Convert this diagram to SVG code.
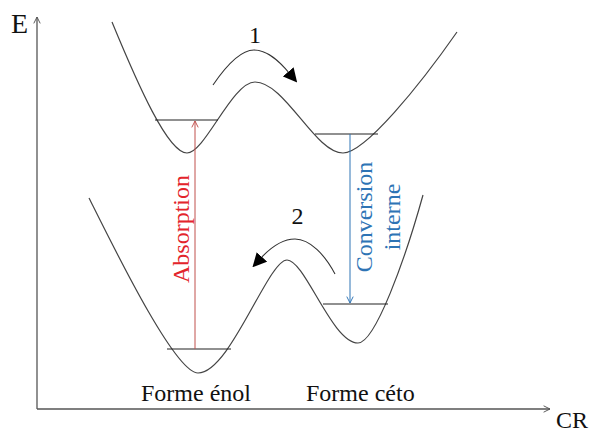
<svg xmlns="http://www.w3.org/2000/svg" width="592" height="432" viewBox="0 0 592 432">
  <defs>
    <marker id="chevGray" viewBox="0 0 10 10" refX="9" refY="5" markerWidth="8" markerHeight="8" markerUnits="userSpaceOnUse" orient="auto">
      <path d="M1,1 L9,5 L1,9" fill="none" stroke="#555" stroke-width="1.2"/>
    </marker>
    <marker id="chevRed" viewBox="0 0 10 10" refX="9" refY="5" markerWidth="8" markerHeight="8" markerUnits="userSpaceOnUse" orient="auto">
      <path d="M1,1 L9,5 L1,9" fill="none" stroke="#c0504d" stroke-width="1.2"/>
    </marker>
    <marker id="chevBlue" viewBox="0 0 10 10" refX="9" refY="5" markerWidth="8" markerHeight="8" markerUnits="userSpaceOnUse" orient="auto">
      <path d="M1,1 L9,5 L1,9" fill="none" stroke="#2e74b5" stroke-width="1.2"/>
    </marker>
    <marker id="tri" viewBox="0 0 10 10" refX="2" refY="5" markerWidth="14" markerHeight="14" markerUnits="userSpaceOnUse" orient="auto">
      <path d="M0,0 L10,5 L0,10 Z" fill="#000"/>
    </marker>
  </defs>
  <style>
    .curve { fill: none; stroke: #444; stroke-width: 1.2; }
    .level { stroke: #222; stroke-width: 1.1; }
    .axis { fill: none; stroke: #555; stroke-width: 1.3; }
    .t { font-family: "Liberation Serif", "Times New Roman", serif; font-size: 24px; fill: #111; }
  </style>
  <rect width="592" height="432" fill="#fff"/>

  <g id="axes">
    <path class="axis" d="M37,409 L37,17" marker-end="url(#chevGray)"/>
    <path class="axis" d="M37,409 L550,409" marker-end="url(#chevGray)"/>
    <text class="t" x="11" y="33" style="font-size:28px">E</text>
    <text class="t" x="556" y="428">CR</text>
  </g>

  <g id="excited-state">
    <path class="curve" d="M112,22 C138,85 168,153 187,153 C205,153 232,82 255,82 C285,82 315,153 343,153 C365,153 420,85 457,32"/>
    <line class="level" x1="155" y1="120" x2="218" y2="120"/>
    <line class="level" x1="315" y1="134" x2="378" y2="134"/>
  </g>

  <g id="ground-state">
    <path class="curve" d="M89,198 C115,250 175,373 198,373 C230,373 268,260 287,260 C305,260 332,343 358,343 C375,343 405,260 423,195"/>
    <line class="level" x1="167" y1="349" x2="231" y2="349"/>
    <line class="level" x1="323" y1="304" x2="388" y2="304"/>
  </g>

  <g id="labels">
    <text class="t" x="141" y="401">Forme énol</text>
    <text class="t" x="306" y="401">Forme céto</text>
    <text class="t" x="255" y="43" text-anchor="middle">1</text>
    <text class="t" x="297.5" y="224" text-anchor="middle">2</text>
  </g>

  <g id="absorption">
    <text class="t" transform="translate(189,229) rotate(-90)" text-anchor="middle" style="fill:#e3242b">Absorption</text>
  </g>

  <g id="conversion-interne">
    <text class="t" transform="translate(372,217) rotate(-90)" text-anchor="middle" style="fill:#2e74b5">Conversion</text>
    <text class="t" transform="translate(400,217) rotate(-90)" text-anchor="middle" style="fill:#2e74b5">interne</text>
  </g>

  <g id="connectors">
    <line x1="195" y1="349" x2="195" y2="121" stroke="#c0504d" stroke-width="1" marker-end="url(#chevRed)"/>
    <line x1="350" y1="134" x2="350" y2="303" stroke="#2e74b5" stroke-width="1" marker-end="url(#chevBlue)"/>
    <path d="M213,85 C230,60 244,50 254,50 C268,50 280,62 290,74" fill="none" stroke="#333" stroke-width="1.1" marker-end="url(#tri)"/>
    <path d="M335,274 C325,255 310,239 295,239 C282,239 270,248 260,259" fill="none" stroke="#333" stroke-width="1.1" marker-end="url(#tri)"/>
  </g>
</svg>
